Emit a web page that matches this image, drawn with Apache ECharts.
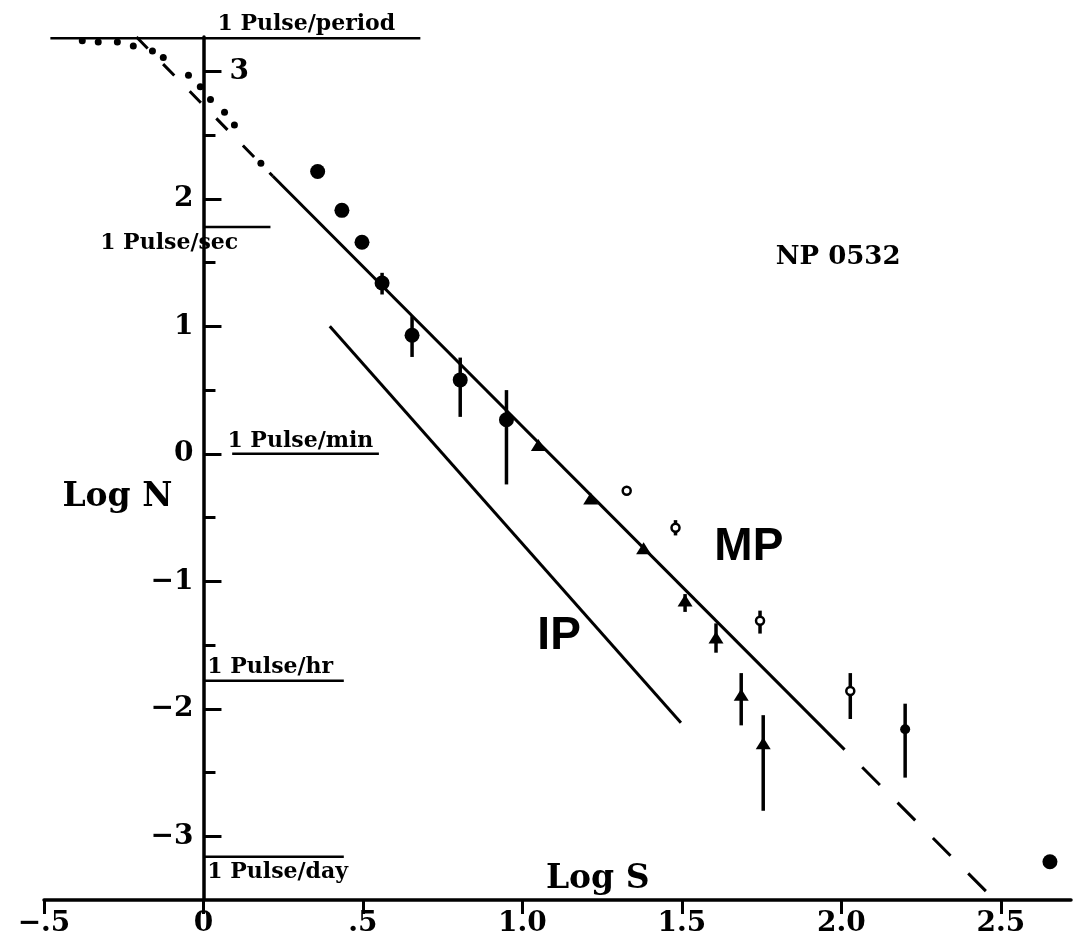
<!DOCTYPE html>
<html>
<head>
<meta charset="utf-8">
<script src="https://cdn.jsdelivr.net/npm/echarts@6/dist/echarts.min.js"></script>
<style>
  html, body { margin: 0; padding: 0; background: #fff; }
  #chart { width: 1083px; height: 944px; }
</style>
</head>
<body>
<div id="chart"></div>
<script>
// ---- axis ticks and labels ----
const xTicks = [-0.5, 0, 0.5, 1.0, 1.5, 2.0, 2.5];
const xTickLabels = ['\u2212.5', '0', '.5', '1.0', '1.5', '2.0', '2.5'];
const yMajorTicks = [-3, -2, -1, 0, 1, 2, 3];
const yMajorLabels = ['\u22123', '\u22122', '\u22121', '0', '1', '2', '3'];
const yMinorTicks = [-2.5, -1.5, -0.5, 0.5, 1.5, 2.5];

// ---- reference pulse rates (log N) ----
const pulseRates = ['1 Pulse/period', '1 Pulse/sec', '1 Pulse/min', '1 Pulse/hr', '1 Pulse/day'];
const pulseLogN = [3.26, 1.78, 0, -1.78, -3.16];

// ---- fitted power laws: end points (log S, log N) ----
const mpFitS = [0.217, 2.01];
const mpFitN = [2.18, -2.32];
const mpUpperExtS = [-0.21, 0.217];
const mpUpperExtN = [3.27, 2.18];
const mpLowerExtS = [2.01, 2.465];
const mpLowerExtN = [-2.32, -3.46];
const ipFitS = [0.396, 1.497];
const ipFitN = [1.0, -2.11];

// ---- measured rate curve at low S (dotted) ----
const curveS = [-0.38, -0.33, -0.27, -0.22, -0.16, -0.126, -0.047, -0.01, 0.022, 0.066, 0.097, 0.18];
const curveN = [3.24, 3.23, 3.23, 3.20, 3.16, 3.11, 2.97, 2.88, 2.78, 2.68, 2.58, 2.28];

// ---- large filled circles ----
const dotS  = [0.358, 0.434, 0.497, 0.56, 0.654, 0.805, 0.95];
const dotN  = [2.215, 1.91, 1.66, 1.34, 0.93, 0.58, 0.267];
const dotLo = [null, null, null, 1.25, 0.76, 0.29, -0.24];
const dotHi = [null, null, null, 1.42, 1.08, 0.755, 0.50];

// ---- triangles ----
const triS  = [1.05, 1.214, 1.38, 1.51, 1.607, 1.686, 1.755];
const triN  = [0.07, -0.35, -0.74, -1.15, -1.44, -1.89, -2.27];
const triLo = [null, null, null, -1.24, -1.56, -2.13, -2.80];
const triHi = [null, null, null, -1.10, -1.33, -1.72, -2.05];

// ---- open circles ----
const openS  = [1.327, 1.48, 1.745, 2.028];
const openN  = [-0.29, -0.58, -1.31, -1.86];
const openLo = [null, -0.64, -1.41, -2.08];
const openHi = [null, -0.52, -1.23, -1.72];

// ---- small filled circle ----
const smallS  = [2.20];
const smallN  = [-2.16];
const smallLo = [-2.54];
const smallHi = [-1.96];

// ---- isolated large circle ----
const loneS = [2.654];
const loneN = [-3.20];

const zip = (a, b) => a.map((v, i) => [v, b[i]]);
const bars = (s, lo, hi) => s.map((v, i) => [v, lo[i], hi[i]]).filter(d => d[1] !== null);

const SERIF = 'DejaVu Serif';
const INK = '#000';

// plot frame
const W = 1083, GRID = { left: 44, right: 12, top: 37, bottom: 44 };
const X_MIN = -0.5, X_MAX = 2.72, Y_MIN = -3.5, Y_MAX = 3.27;
// the log N axes stand on the log S = 0 line
const zeroOffset = -((0 - X_MIN) / (X_MAX - X_MIN)) * (W - GRID.left - GRID.right);

const errorBars = [].concat(
  bars(dotS, dotLo, dotHi),
  bars(triS, triLo, triHi),
  bars(openS, openLo, openHi),
  bars(smallS, smallLo, smallHi)
);

function seg(s, n, extra) {
  return Object.assign({
    type: 'line', data: zip(s, n), symbol: 'none', silent: true, animation: false,
    lineStyle: { color: INK, width: 3 }
  }, extra || {});
}

function dots(s, n, symbol, size, style) {
  return {
    type: 'scatter', data: zip(s, n), symbol: symbol, symbolSize: size, silent: true,
    itemStyle: Object.assign({ color: INK, opacity: 1 }, style || {})
  };
}

// pulse-rate reference segments (x extents along log S)
const pulseSpan = [[-0.48, 0.68], [0, 0.21], [0.09, 0.55], [0, 0.44], [0, 0.44]];
const pulseSeries = pulseLogN.map((n, i) => seg(pulseSpan[i], [n, n], { lineStyle: { color: INK, width: 2.5 } }));

const textStyle = (font, size, align, dy) => ({
  color: INK, opacity: 1, fontFamily: font, fontSize: size, fontWeight: 'bold',
  position: [0, dy], align: align, verticalAlign: 'middle'
});

// text placed in data space
const pulseAnchor = [[0.044, 3.26, -14], [-0.324, 1.78, 16], [0.075, 0, -13], [0.012, -1.78, -13], [0.012, -3.16, 16]];
const pulseText = pulseAnchor.map((a, i) => ({
  name: pulseRates[i], value: [a[0], a[1]], label: textStyle(SERIF, 22, 'left', a[2])
}));

const titles = [
  { name: 'MP', value: [1.71, -0.737], font: 'Liberation Sans', size: 46 },
  { name: 'IP', value: [1.115, -1.43], font: 'Liberation Sans', size: 46 },
  { name: 'NP 0532', value: [1.99, 1.545], font: SERIF, size: 26 },
  { name: 'Log N', value: [-0.27, -0.34], font: SERIF, size: 33 },
  { name: 'Log S', value: [1.236, -3.34], font: SERIF, size: 33 }
].map(t => ({ name: t.name, value: t.value, label: textStyle(t.font, t.size, 'center', 0) }));

const labelOf = v => { const i = yMajorTicks.findIndex(t => Math.abs(t - v) < 1e-6); return i >= 0 ? yMajorLabels[i] : ''; };

const yBase = {
  type: 'value', min: Y_MIN, max: Y_MAX, position: 'left', offset: zeroOffset,
  splitLine: { show: false }
};
const yFont = { color: INK, fontFamily: SERIF, fontWeight: 'bold', fontSize: 28, formatter: labelOf };

const option = {
  animation: false,
  backgroundColor: '#fff',
  grid: Object.assign({ containLabel: false, outerBoundsMode: 'none' }, GRID),
  xAxis: {
    type: 'value', min: X_MIN, max: X_MAX,
    splitLine: { show: false },
    axisLine: { onZero: false, lineStyle: { color: INK, width: 3.5 } },
    axisTick: { show: true, length: 14, customValues: xTicks, lineStyle: { color: INK, width: 3 } },
    axisLabel: {
      customValues: xTicks, margin: 10,
      color: INK, fontFamily: SERIF, fontWeight: 'bold', fontSize: 28,
      formatter: v => { const i = xTicks.findIndex(t => Math.abs(t - v) < 1e-6); return i >= 0 ? xTickLabels[i] : ''; }
    }
  },
  yAxis: [
    Object.assign({}, yBase, {
      axisLine: { onZero: false, show: true, lineStyle: { color: INK, width: 3.5 } },
      axisTick: { show: true, inside: true, length: 18, customValues: yMajorTicks, lineStyle: { color: INK, width: 3 } },
      axisLabel: Object.assign({ customValues: yMajorTicks.filter(v => v !== 3), margin: 10 }, yFont)
    }),
    Object.assign({}, yBase, {
      axisLine: { onZero: false, show: false },
      axisTick: { show: true, inside: true, length: 12, customValues: yMinorTicks, lineStyle: { color: INK, width: 3 } },
      axisLabel: { show: false }
    }),
    Object.assign({}, yBase, {
      axisLine: { onZero: false, show: false },
      axisTick: { show: false },
      axisLabel: Object.assign({ inside: true, customValues: [3], margin: 26 }, yFont)
    })
  ],
  series: [].concat(pulseSeries, [
    seg(mpFitS, mpFitN),
    seg(mpLowerExtS, mpLowerExtN, { lineStyle: { color: INK, width: 3, type: [25, 25], dashOffset: 25 } }),
    seg(mpUpperExtS, mpUpperExtN, { lineStyle: { color: INK, width: 3, type: [16, 22], dashOffset: 0 } }),
    seg(ipFitS, ipFitN),
    dots(curveS, curveN, 'circle', 7),
    {
      type: 'custom', silent: true, data: errorBars, encode: { x: 0, y: [1, 2] },
      renderItem: (params, api) => {
        const a = api.coord([api.value(0), api.value(1)]);
        const b = api.coord([api.value(0), api.value(2)]);
        return { type: 'line', shape: { x1: a[0], y1: a[1], x2: b[0], y2: b[1] }, style: { stroke: INK, lineWidth: 3.5 } };
      }
    },
    dots(dotS, dotN, 'circle', 15),
    dots(triS, triN, 'triangle', [15, 12]),
    dots(openS, openN, 'circle', 8, { color: '#fff', borderColor: INK, borderWidth: 2.5 }),
    dots(smallS, smallN, 'circle', 10),
    dots(loneS, loneN, 'circle', 15),
    {
      type: 'scatter', data: pulseText, symbolSize: 0, silent: true, itemStyle: { opacity: 1 },
      label: { show: true, formatter: '{b}' }
    },
    {
      type: 'scatter', data: titles, symbolSize: 0, silent: true, itemStyle: { opacity: 1 },
      label: { show: true, formatter: '{b}' }
    }
  ])
};

const chart = echarts.init(document.getElementById('chart'), null, { renderer: 'canvas' });
chart.setOption(option);
</script>
</body>
</html>
